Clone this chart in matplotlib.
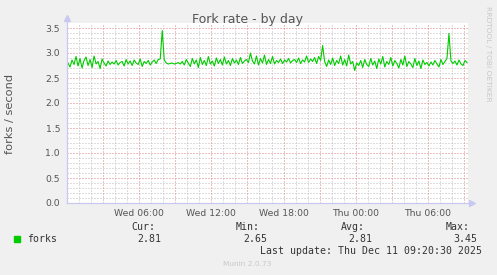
import matplotlib
matplotlib.use("Agg")
import matplotlib.pyplot as plt
import numpy as np

# ---- data (forks per second, 10-minute samples from Wed 00:00) ----
forks = [
    2.80, 2.72, 2.86, 2.77, 2.93, 2.74, 2.89, 2.70, 2.85, 2.92,
    2.75, 2.87, 2.71, 2.94, 2.78, 2.83, 2.69, 2.88, 2.80, 2.74,
    2.84, 2.77, 2.82, 2.78, 2.85, 2.76, 2.81, 2.83, 2.74, 2.87,
    2.78, 2.84, 2.75, 2.86, 2.80, 2.77, 2.88, 2.73, 2.83, 2.79,
    2.85, 2.76, 2.82, 2.86, 2.79, 2.87, 2.88, 3.45, 2.86, 2.80,
    2.78, 2.79, 2.80, 2.78, 2.79, 2.81, 2.78, 2.83, 2.76, 2.87,
    2.80, 2.73, 2.89, 2.78, 2.86, 2.71, 2.91, 2.77, 2.85, 2.75,
    2.93, 2.78, 2.84, 2.74, 2.90, 2.79, 2.87, 2.76, 2.92, 2.78,
    2.85, 2.75, 2.89, 2.80, 2.86, 2.77, 2.91, 2.79, 2.84, 2.87,
    2.81, 3.00, 2.84, 2.78, 2.94, 2.76, 2.89, 2.80, 2.96, 2.77,
    2.87, 2.79, 2.93, 2.78, 2.85, 2.81, 2.88, 2.79, 2.86, 2.82,
    2.89, 2.80, 2.85, 2.87, 2.81, 2.90, 2.79, 2.86, 2.82, 2.94,
    2.81, 2.88, 2.83, 2.91, 2.79, 2.93, 2.85, 3.15, 2.83, 2.73,
    2.86, 2.77, 2.90, 2.75, 2.85, 2.79, 2.94, 2.76, 2.87, 2.74,
    2.96, 2.78, 2.83, 2.65, 2.80, 2.75, 2.85, 2.71, 2.87, 2.77,
    2.73, 2.89, 2.76, 2.84, 2.69, 2.88, 2.78, 2.93, 2.72, 2.83,
    2.77, 2.91, 2.74, 2.85, 2.79, 2.70, 2.87, 2.76, 2.94, 2.73,
    2.83, 2.78, 2.71, 2.89, 2.75, 2.84, 2.69, 2.86, 2.77, 2.81,
    2.74, 2.82, 2.76, 2.85, 2.78, 2.72, 2.87, 2.77, 2.83, 2.89,
    3.39, 2.84, 2.79, 2.84, 2.76, 2.86, 2.78, 2.75, 2.85, 2.81,
]
sample_minutes = 10
x_tick_hours = [6, 12, 18, 24, 30]
x_tick_labels = ["Wed 06:00", "Wed 12:00", "Wed 18:00", "Thu 00:00", "Thu 06:00"]
y_ticks = [0.0, 0.5, 1.0, 1.5, 2.0, 2.5, 3.0, 3.5]
stat_names = ["Cur:", "Min:", "Avg:", "Max:"]
stat_values = ["2.81", "2.65", "2.81", "3.45"]
series_name = "forks"
last_update = "Last update: Thu Dec 11 09:20:30 2025"

W, H = 497, 275
fig = plt.figure(figsize=(W / 100, H / 100), dpi=100)
fig.patch.set_facecolor("#F0F0F0")

left, right, top, bottom = 67, 468, 23, 203
ax = fig.add_axes([left / W, 1 - bottom / H, (right - left) / W, (bottom - top) / H])
ax.set_facecolor("white")

t = (np.arange(len(forks)) + 0.5) * sample_minutes / 60.0
ax.plot(t, forks, color="#00CC00", lw=0.8, zorder=5)

ax.set_xlim(0, len(forks) * sample_minutes / 60.0)
ax.set_ylim(0, 3.6)

# grid
minor_col = "#BDBDBD"
major_col = "#DD8080"
for yv in np.arange(0.1, 3.6, 0.1):
    is_major = abs(yv / 0.5 - round(yv / 0.5)) < 1e-6
    ax.axhline(yv, color=major_col if is_major else minor_col, lw=0.72,
               ls=(0, (1, 2)), zorder=1)
for xv in range(1, 34):
    ax.axvline(xv, color=major_col if xv % 3 == 0 else minor_col, lw=0.72,
               ls=(0, (1, 2)), zorder=1)

for s in ax.spines.values():
    s.set_visible(False)

axis_col = "#C8C8F0"
ax.plot([0, 0], [0, 1.03], transform=ax.transAxes, color=axis_col, lw=0.9,
        clip_on=False, zorder=6)
ax.plot([0, 1.01], [0, 0], transform=ax.transAxes, color=axis_col, lw=0.9,
        clip_on=False, zorder=6)
ax.plot([0], [1.03], transform=ax.transAxes, marker="^", ms=4, color=axis_col,
        clip_on=False, zorder=6)
ax.plot([1.01], [0], transform=ax.transAxes, marker=">", ms=4, color=axis_col,
        clip_on=False, zorder=6)

txt_col = "#555555"
ax.set_yticks(y_ticks)
ax.set_yticklabels([f"{v:.1f}" for v in y_ticks])
ax.set_xticks(x_tick_hours)
ax.set_xticklabels(x_tick_labels)
ax.tick_params(axis="both", length=0, labelsize=6.7, colors=txt_col)
ax.tick_params(axis="y", pad=5)
ax.tick_params(axis="x", pad=4)

# titles
fig.text(248 / W, 1 - 19 / H, "Fork rate - by day", ha="center", va="center",
         fontsize=9, color=txt_col)
fig.text(10 / W, 1 - 114 / H, "forks / second", ha="center", va="center",
         rotation=90, fontsize=8.2, color=txt_col)
fig.text(488 / W, 1 - 54 / H, "RRDTOOL / TOBI OETIKER", ha="center", va="center",
         rotation=270, fontsize=5.4, color="#C8C8C8")

# legend
mono = "DejaVu Sans Mono"
fig.patches.append(plt.Rectangle((14 / W, 1 - 242 / H), 6 / W, 6 / H,
                                 transform=fig.transFigure, color="#00CC00"))
fig.text(27 / W, 1 - 239.5 / H, series_name, ha="left", va="center",
         fontsize=7.1, family=mono, color="#333333")
name_right = [155, 260, 365, 470]
val_right = [161, 267, 372, 477]
for n, v, nr, vr in zip(stat_names, stat_values, name_right, val_right):
    fig.text(nr / W, 1 - 227.5 / H, n, ha="right", va="center", fontsize=7.1,
             family=mono, color="#333333")
    fig.text(vr / W, 1 - 239.5 / H, v, ha="right", va="center", fontsize=7.1,
             family=mono, color="#333333")
fig.text(482 / W, 1 - 251.5 / H, last_update, ha="right", va="center",
         fontsize=7.1, family=mono, color="#333333")
fig.text(247.5 / W, 1 - 264 / H, "Munin 2.0.73", ha="center", va="center",
         fontsize=5.3, color="#C8C8C8")

fig.savefig("out.png", dpi=100, facecolor=fig.get_facecolor())
